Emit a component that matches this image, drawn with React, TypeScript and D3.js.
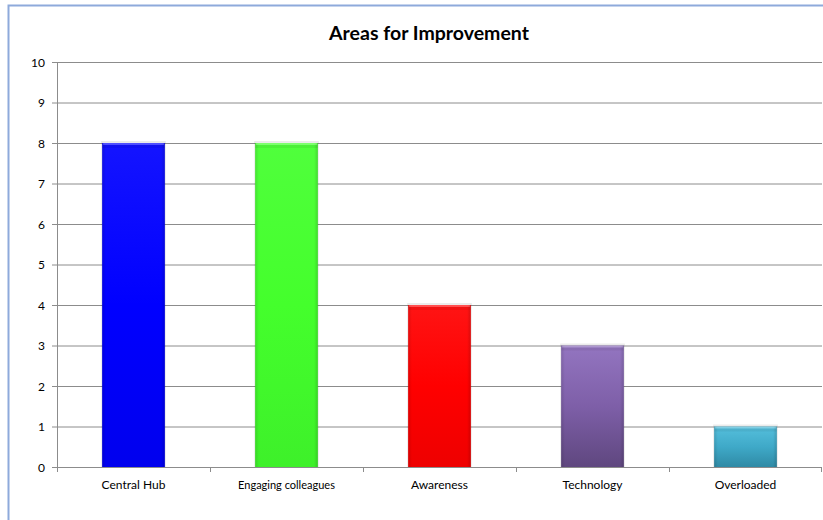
import React from "react";
import * as d3 from "d3";

const categories = ["Central Hub", "Engaging colleagues", "Awareness", "Technology", "Overloaded"];
const values = [8, 8, 4, 3, 1];
const yTicks = [0, 1, 2, 3, 4, 5, 6, 7, 8, 9, 10];
const barColors = [
  ["#1414ff", "#0000ff", "#0000ee"],
  ["#50ff3c", "#44ff2c", "#3ef02a"],
  ["#ff1414", "#ff0000", "#ee0000"],
  ["#9375c0", "#7e5fa8", "#5f477f"],
  ["#55bfdc", "#3fa9c8", "#2f8aa5"],
];
const labelSizes = [12, 11, 12, 12, 12];

export default function App() {
  const W = 823, H = 520;
  const left = 57, right = 822, top = 62, bottom = 467;
  const x = d3.scaleBand<string>().domain(categories).range([left, right]).paddingInner(0).paddingOuter(0);
  const y = d3.scaleLinear().domain([0, 10]).range([bottom, top]);
  const bw = x.bandwidth() * 0.41;
  const font = "Lato, 'Open Sans', 'Liberation Sans', sans-serif";
  return (
    <svg width={W} height={H} style={{ position: "absolute", left: 0, top: 0 }}>
      <defs>
        {barColors.map((c, i) => (
          <linearGradient key={i} id={`g${i}`} x1="0" y1="0" x2="0" y2="1">
            <stop offset="0" stopColor={c[0]} />
            <stop offset="0.5" stopColor={c[1]} />
            <stop offset="1" stopColor={c[2]} />
          </linearGradient>
        ))}
        <linearGradient id="edgeH" x1="0" y1="0" x2="1" y2="0">
          <stop offset="0" stopColor="#000" stopOpacity="0.12" />
          <stop offset="0.06" stopColor="#000" stopOpacity="0" />
          <stop offset="0.94" stopColor="#000" stopOpacity="0" />
          <stop offset="1" stopColor="#000" stopOpacity="0.15" />
        </linearGradient>
      </defs>
      <rect x={0} y={0} width={W} height={H} fill="#fff" />
      <rect x={8.5} y={5.5} width={W + 10} height={H + 10} fill="#fff" stroke="#8eaadb" strokeWidth={2} />
      <text x={429} y={40} textAnchor="middle" fontFamily={font} fontWeight="bold" fontSize={19.5} fill="#000">
        Areas for Improvement
      </text>
      {yTicks.map((t) => (
        <g key={t}>
          <line x1={left} x2={right} y1={y(t) + 0.5} y2={y(t) + 0.5} stroke="#8c8c8c" strokeWidth={1} />
          <line x1={left - 5} x2={left} y1={y(t) + 0.5} y2={y(t) + 0.5} stroke="#8c8c8c" />
          <text x={45} y={y(t) + 4.5} textAnchor="end" fontFamily={font} fontSize={12} fill="#000">
            {t}
          </text>
        </g>
      ))}
      <line x1={left + 0.5} x2={left + 0.5} y1={top} y2={bottom + 5} stroke="#8c8c8c" />
      {categories.map((c) => (
        <line key={c} x1={(x(c) as number) + 0.5} x2={(x(c) as number) + 0.5} y1={bottom} y2={bottom + 5} stroke="#8c8c8c" />
      ))}
      <line x1={right - 0.5} x2={right - 0.5} y1={bottom} y2={bottom + 5} stroke="#8c8c8c" />
      {categories.map((c, i) => {
        const bx = (x(c) as number) + (x.bandwidth() - bw) / 2;
        const by = y(values[i]);
        const bh = bottom - by;
        return (
          <g key={c}>
            <rect x={bx - 1} y={by - 2} width={bw + 2} height={bh + 2} fill="#000" opacity={0.08} />
            <rect x={bx} y={by} width={bw} height={bh} fill={`url(#g${i})`} />
            <rect x={bx} y={by} width={bw} height={bh} fill="url(#edgeH)" />
            <rect x={bx + 1} y={by} width={bw - 2} height={2} fill="#fff" opacity={0.25} />
            <rect x={bx} y={by + 2} width={bw} height={3} fill="#000" opacity={0.06} />
          </g>
        );
      })}
      {categories.map((c, i) => (
        <text key={c} x={(x(c) as number) + x.bandwidth() / 2} y={489} textAnchor="middle" fontFamily={font} fontSize={labelSizes[i]} fill="#000">
          {c}
        </text>
      ))}
    </svg>
  );
}
